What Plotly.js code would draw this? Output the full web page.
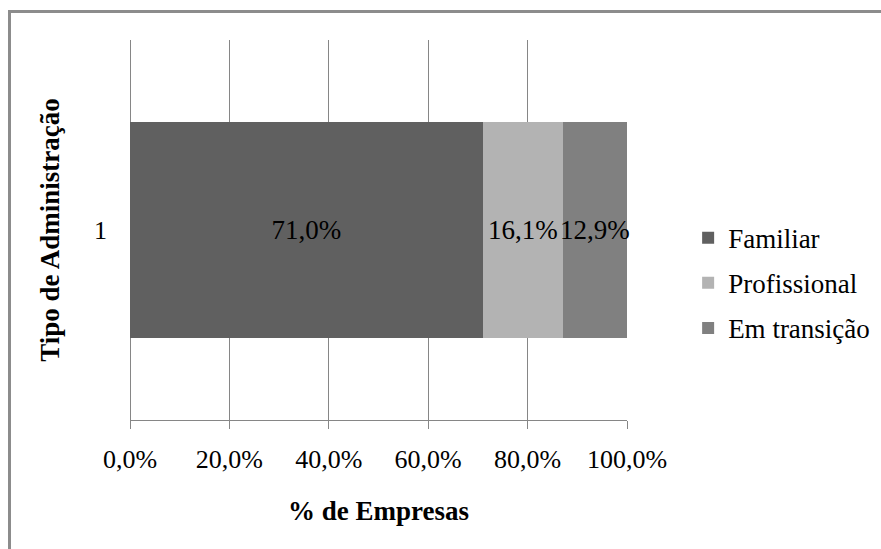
<!DOCTYPE html>
<html>
<head>
<meta charset="utf-8">
<script src="https://cdn.plot.ly/plotly-3.0.1.min.js"></script>
<style>
  html, body { margin: 0; padding: 0; background: #ffffff; overflow: hidden; }
  #wrap { position: relative; width: 881px; height: 549px; }
  #chart { position: absolute; left: 0; top: 0; width: 881px; height: 549px; }
  #frame {
    position: absolute; left: 8px; top: 10px; width: 900px; height: 600px;
    border-top: 3px solid #8c8c8c; border-left: 3px solid #8c8c8c;
    pointer-events: none; box-sizing: border-box;
  }
</style>
</head>
<body>
<div id="wrap">
  <div id="chart"></div>
  <div id="frame"></div>
</div>
<script>
// Share of companies by management type (single stacked bar)
const categories = ['1'];
const seriesNames = ['Familiar', 'Profissional', 'Em transição'];
const familiar = [71.0];
const profissional = [16.1];
const emTransicao = [12.9];
const seriesValues = [familiar, profissional, emTransicao];
const seriesColors = ['#606060', '#b3b3b3', '#808080'];
const xTickValues = [0, 20, 40, 60, 80, 100];
const xTickLabels = ['0,0%', '20,0%', '40,0%', '60,0%', '80,0%', '100,0%'];

const serif = '"Liberation Serif", "Times New Roman", "DejaVu Serif", serif';

const traces = seriesNames.map((name, i) => ({
  type: 'bar',
  orientation: 'h',
  name: name,
  legendgroup: 'g' + i,
  y: categories,
  x: seriesValues[i],
  marker: { color: seriesColors[i], line: { width: 0 } },
  texttemplate: '%{x:.1f}%',
  textposition: 'inside',
  insidetextanchor: 'middle',
  textangle: 0,
  constraintext: 'none',
  cliponaxis: false,
  textfont: { family: serif, size: 27, color: '#000000' },
  hoverinfo: 'skip'
}));

const layout = {
  width: 881,
  height: 549,
  barmode: 'stack',
  bargap: 0.43,
  separators: ',.',
  paper_bgcolor: '#ffffff',
  plot_bgcolor: '#ffffff',
  margin: { l: 130, r: 254, t: 40, b: 129, pad: 0, autoexpand: false },
  font: { family: serif, size: 26, color: '#000000' },
  showlegend: true,
  legend: {
    x: 1.123, xanchor: 'left',
    y: 0.36, yanchor: 'middle',
    traceorder: 'grouped',
    tracegroupgap: 7,
    font: { family: serif, size: 27, color: '#000000' },
    bgcolor: 'rgba(0,0,0,0)',
    borderwidth: 0
  },
  xaxis: {
    range: [0, 100],
    tickvals: xTickValues,
    ticktext: xTickLabels,
    showgrid: true,
    gridcolor: '#868686',
    gridwidth: 1,
    zeroline: true,
    zerolinecolor: '#868686',
    zerolinewidth: 1,
    showline: true,
    linecolor: '#868686',
    linewidth: 1,
    ticks: 'outside',
    ticklen: 8,
    tickcolor: '#868686',
    tickwidth: 1,
    ticklabelstandoff: 8,
    tickfont: { family: serif, size: 26, color: '#000000' },
    automargin: true,
    title: {
      text: '<b>% de Empresas</b>',
      standoff: 27,
      font: { family: serif, size: 27, color: '#000000' }
    },
    fixedrange: true
  },
  yaxis: {
    type: 'category',
    showgrid: false,
    zeroline: false,
    showline: false,
    ticks: '',
    ticklabelstandoff: 22,
    tickfont: { family: serif, size: 26, color: '#000000' },
    automargin: true,
    title: {
      text: '<b>Tipo de Administração</b>',
      standoff: 26,
      font: { family: serif, size: 27, color: '#000000' }
    },
    fixedrange: true
  }
};

Plotly.newPlot('chart', traces, layout, { displayModeBar: false, staticPlot: true });
</script>
</body>
</html>
